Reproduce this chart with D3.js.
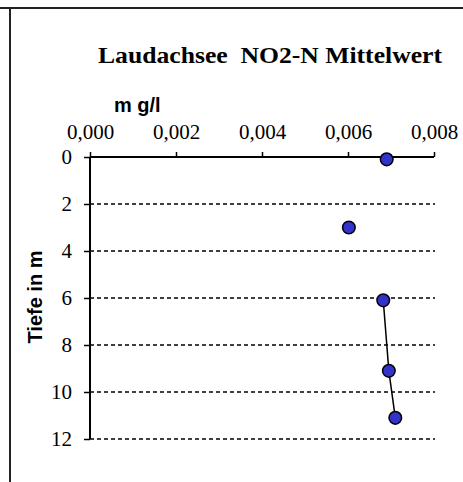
<!DOCTYPE html>
<html>
<head>
<meta charset="utf-8">
<script src="https://cdn.jsdelivr.net/npm/d3@7"></script>
<style>
  html, body { margin: 0; padding: 0; background: #fff; }
  svg { display: block; }
</style>
</head>
<body>
<svg id="chart" width="463" height="482"></svg>
<script>
// ---- data ----
const titleText = "Laudachsee  NO2-N Mittelwert";
const xLabel = "m g/l";
const yLabel = "Tiefe in m";
const xTicks = [0, 0.002, 0.004, 0.006, 0.008];
const yTicks = [0, 2, 4, 6, 8, 10, 12];
// measured points (depth m, NO2-N mg/l)
const depths = [0.1, 3, 6.1, 9.1, 11.1];
const values = [0.0069, 0.00602, 0.00682, 0.00695, 0.0071];
// which points are joined by the line (others stand alone)
const joined = [false, false, true, true, true];

// ---- layout ----
const svg = d3.select("#chart");
const x = d3.scaleLinear().domain([0, 0.008]).range([90, 434]);
const y = d3.scaleLinear().domain([0, 12]).range([157, 439]);
const fmt = v => d3.format(".3f")(v).replace(".", ",");

// frame (top and left edge)
svg.append("line").attr("x1", 0).attr("x2", 463).attr("y1", 8).attr("y2", 8)
  .attr("stroke", "#222").attr("stroke-width", 2);
svg.append("line").attr("x1", 10).attr("x2", 10).attr("y1", 7).attr("y2", 482)
  .attr("stroke", "#222").attr("stroke-width", 2);

// title
svg.append("text")
  .attr("x", 98).attr("y", 63)
  .attr("textLength", 344).attr("lengthAdjust", "spacingAndGlyphs")
  .style("white-space", "pre")
  .attr("font-family", "'Liberation Serif', 'Times New Roman', serif")
  .attr("font-weight", "bold").attr("font-size", 24)
  .text(titleText);

// gridlines
svg.append("g").selectAll("line")
  .data(yTicks.filter(d => d > 0))
  .join("line")
  .attr("x1", x(0)).attr("x2", 435)
  .attr("y1", d => y(d)).attr("y2", d => y(d))
  .attr("stroke", "#000").attr("stroke-width", 1.5)
  .attr("stroke-dasharray", "4,3");

// x axis (top)
const gx = svg.append("g").attr("transform", `translate(0,${y(0)})`)
  .call(d3.axisTop(x).tickValues(xTicks).tickSize(5).tickPadding(13).tickFormat(fmt));
gx.select(".domain").attr("stroke-width", 2).attr("d", `M${x(0)},0H${x(0.008)}`);
gx.selectAll(".tick line").attr("stroke-width", 1.5);
gx.selectAll("text")
  .attr("font-family", "'Liberation Serif', 'Times New Roman', serif")
  .attr("font-size", 21).attr("fill", "#000");

// y axis (left)
const gy = svg.append("g").attr("transform", `translate(${x(0)},0)`)
  .call(d3.axisLeft(y).tickValues(yTicks).tickSize(6).tickPadding(12).tickFormat(d3.format("d")));
gy.select(".domain").attr("stroke-width", 2).attr("d", `M0,${y(0)}V${y(12)}`);
gy.selectAll(".tick line").attr("stroke-width", 1.5);
gy.selectAll("text")
  .attr("font-family", "'Liberation Serif', 'Times New Roman', serif")
  .attr("font-size", 21).attr("fill", "#000");

// axis labels
svg.append("text")
  .attr("x", 114).attr("y", 112)
  .style("white-space", "pre")
  .attr("font-family", "'Liberation Sans', Arial, sans-serif")
  .attr("font-weight", "bold").attr("font-size", 20)
  .text(xLabel);

svg.append("text")
  .attr("transform", "translate(41.5,297) rotate(-90)")
  .attr("text-anchor", "middle")
  .attr("font-family", "'Liberation Sans', Arial, sans-serif")
  .attr("font-weight", "bold").attr("font-size", 20)
  .text(yLabel);

// data
const pts = depths.map((d, i) => ({ depth: d, value: values[i], joined: joined[i] }));

const line = d3.line().x(d => x(d.value)).y(d => y(d.depth));
svg.append("path")
  .datum(pts.filter(d => d.joined))
  .attr("d", line)
  .attr("fill", "none").attr("stroke", "#000").attr("stroke-width", 1.5);

svg.append("g").selectAll("circle")
  .data(pts)
  .join("circle")
  .attr("cx", d => x(d.value)).attr("cy", d => y(d.depth))
  .attr("r", 6.3)
  .attr("fill", "#3333CC").attr("stroke", "#000").attr("stroke-width", 1.5);
</script>
</body>
</html>
